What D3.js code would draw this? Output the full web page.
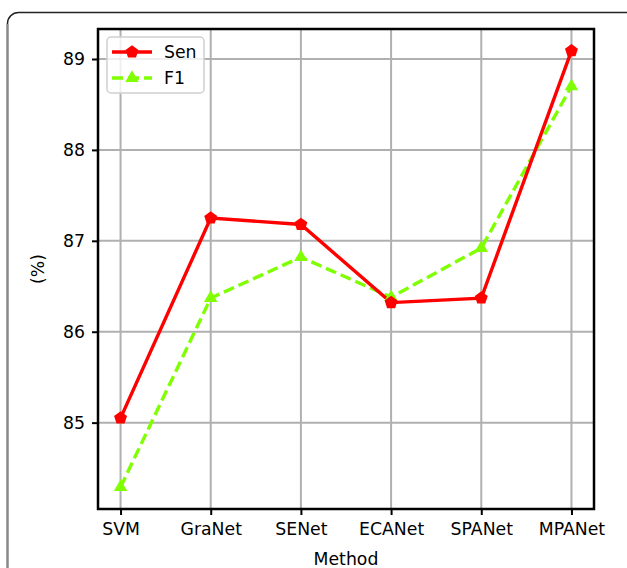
<!DOCTYPE html>
<html>
<head>
<meta charset="utf-8">
<script src="https://cdn.jsdelivr.net/npm/d3@7"></script>
<style>
  body { margin: 0; background: #fff; }
  text { font-family: "DejaVu Sans", sans-serif; fill: #000; }
</style>
</head>
<body>
<div id="chart"></div>
<script>
// data
const methods = ["SVM", "GraNet", "SENet", "ECANet", "SPANet", "MPANet"]
const senValues = [85.05, 87.25, 87.18, 86.32, 86.37, 89.09]
const f1Values = [84.29, 86.37, 86.82, 86.38, 86.92, 88.70]
const yTicks = [85, 86, 87, 88, 89]

var W = 627, H = 568
var margin = {top: 29, right: 33, bottom: 59, left: 98},
    width = W - margin.left - margin.right,
    height = H - margin.top - margin.bottom;

var svg = d3.select("#chart")
  .append("svg")
    .attr("width", W)
    .attr("height", H)

// outer rounded frame
svg.append("rect")
  .attr("x", 7.5).attr("y", 12.5)
  .attr("width", 640).attr("height", 600)
  .attr("rx", 11)
  .attr("fill", "none")
  .attr("stroke", "#222")
  .attr("stroke-width", 1.5)
svg.append("line")
  .attr("x1", 7.5).attr("x2", 7.5).attr("y1", 24).attr("y2", H)
  .attr("stroke", "#888").attr("stroke-width", 2)

var g = svg.append("g")
  .attr("transform", "translate(" + margin.left + "," + margin.top + ")")

// x: points with matplotlib-like 5% padding
var xi = d3.scaleLinear()
  .domain([-0.25, methods.length - 1 + 0.25])
  .range([0, width])
var x = function(name) { return xi(methods.indexOf(name)) }

var all = senValues.concat(f1Values)
var lo = d3.min(all), hi = d3.max(all), pad = (hi - lo) * 0.05
var y = d3.scaleLinear()
  .domain([lo - pad, hi + pad])
  .range([height, 0])

// grid
g.append("g").selectAll("line")
  .data(methods)
  .enter().append("line")
    .attr("x1", d => x(d)).attr("x2", d => x(d))
    .attr("y1", 0).attr("y2", height)
    .attr("stroke", "#b0b0b0").attr("stroke-width", 2)
g.append("g").selectAll("line")
  .data(yTicks)
  .enter().append("line")
    .attr("x1", 0).attr("x2", width)
    .attr("y1", d => y(d)).attr("y2", d => y(d))
    .attr("stroke", "#b0b0b0").attr("stroke-width", 2)

// axes
var xAxis = g.append("g")
  .attr("transform", "translate(0," + height + ")")
  .call(d3.axisBottom(xi).tickValues(d3.range(methods.length))
    .tickFormat(i => methods[i]).tickSize(6).tickPadding(8))
var yAxis = g.append("g")
  .call(d3.axisLeft(y).tickValues(yTicks).tickFormat(d3.format("d"))
    .tickSize(6).tickPadding(7))

;[xAxis, yAxis].forEach(function(a) {
  a.select(".domain").remove()
  a.selectAll(".tick line").attr("stroke", "#000").attr("stroke-width", 2)
  a.selectAll(".tick text")
    .style("font-family", "DejaVu Sans")
    .style("font-size", "17.3px")
    .attr("fill", "#000")
})

// lines + markers
var line = d3.line()
  .x((d, i) => xi(i))
  .y(d => y(d))

g.append("path")
  .datum(f1Values)
  .attr("d", line)
  .attr("fill", "none")
  .attr("stroke", "#7fff00")
  .attr("stroke-width", 3.4)
  .attr("stroke-dasharray", "11,5")

g.append("path")
  .datum(senValues)
  .attr("d", line)
  .attr("fill", "none")
  .attr("stroke", "#ff0000")
  .attr("stroke-width", 3.4)

function polygon(n, r) {
  var pts = []
  for (var k = 0; k < n; k++) {
    var a = -Math.PI / 2 + k * 2 * Math.PI / n
    pts.push([r * Math.cos(a), r * Math.sin(a)])
  }
  return "M" + pts.join("L") + "Z"
}
var pentagon = polygon(5, 6.8)
var triangle = polygon(3, 7.8)

g.append("g").selectAll("path")
  .data(f1Values)
  .enter().append("path")
    .attr("d", triangle)
    .attr("transform", (d, i) => "translate(" + xi(i) + "," + y(d) + ")")
    .attr("fill", "#7fff00")

g.append("g").selectAll("path")
  .data(senValues)
  .enter().append("path")
    .attr("d", pentagon)
    .attr("transform", (d, i) => "translate(" + xi(i) + "," + y(d) + ")")
    .attr("fill", "#ff0000")

// spines
g.append("rect")
  .attr("width", width).attr("height", height)
  .attr("fill", "none")
  .attr("stroke", "#000").attr("stroke-width", 2.5)

// legend
var leg = g.append("g").attr("transform", "translate(9,8)")
leg.append("rect")
  .attr("width", 97).attr("height", 56).attr("rx", 4)
  .attr("fill", "#fff").attr("fill-opacity", 0.8)
  .attr("stroke", "#d0d0d0").attr("stroke-width", 1.5)
var items = [
  {name: "Sen", color: "#ff0000", dash: null, marker: pentagon},
  {name: "F1", color: "#7fff00", dash: "11,5", marker: triangle}
]
items.forEach(function(it, i) {
  var yy = 15 + i * 26
  leg.append("line")
    .attr("x1", 5).attr("x2", 45).attr("y1", yy).attr("y2", yy)
    .attr("stroke", it.color).attr("stroke-width", 3.4)
    .attr("stroke-dasharray", it.dash)
  leg.append("path")
    .attr("d", it.marker)
    .attr("transform", "translate(25," + yy + ")")
    .attr("fill", it.color)
  leg.append("text")
    .attr("x", 57).attr("y", yy + 6)
    .style("font-size", "17.3px")
    .text(it.name)
})

// axis titles
svg.append("text")
  .attr("x", margin.left + width / 2).attr("y", 565)
  .attr("text-anchor", "middle")
  .style("font-size", "17.3px")
  .text("Method")
svg.append("text")
  .attr("transform", "translate(44," + (margin.top + height / 2) + ") rotate(-90)")
  .attr("text-anchor", "middle")
  .style("font-size", "17.3px")
  .text("(%)")
</script>
</body>
</html>
